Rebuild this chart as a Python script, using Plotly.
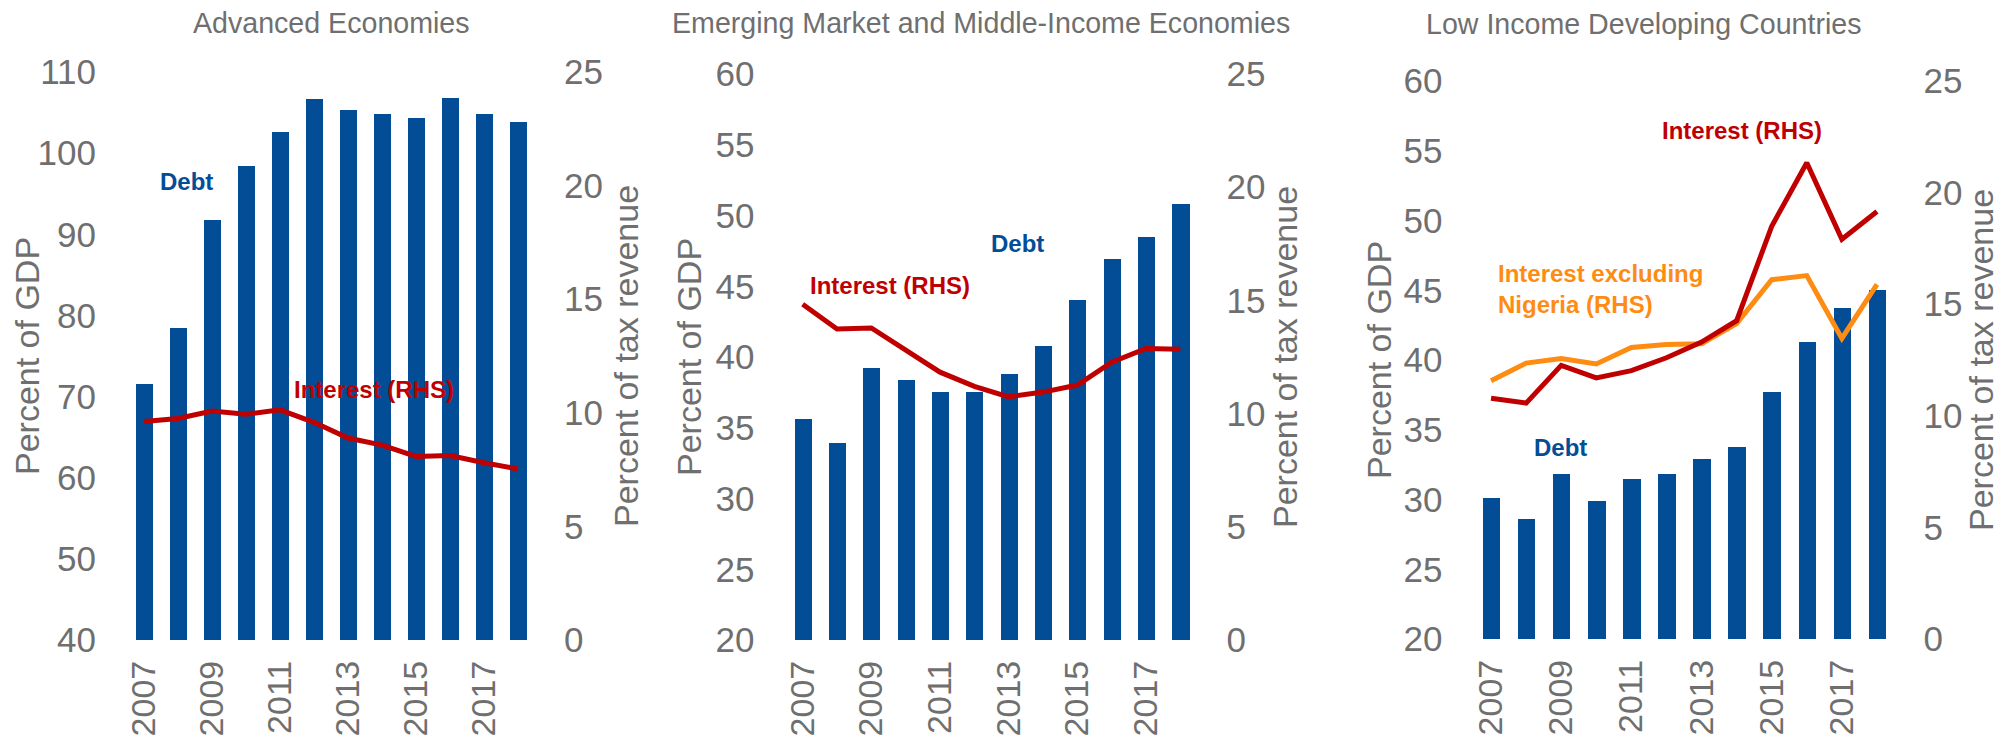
import plotly.graph_objects as go

W, H = 2015, 744

years = list(range(2007, 2019))
year_ticks = [2007, 2009, 2011, 2013, 2015, 2017]

titles = ["Advanced Economies",
          "Emerging Market and Middle-Income Economies",
          "Low Income Developing Countries"]

ae_debt = [71.5, 78.4, 91.8, 98.4, 102.6, 106.7, 105.3, 104.8, 104.3, 106.8, 104.8, 103.8]
ae_interest = [9.62, 9.75, 10.08, 9.94, 10.13, 9.58, 8.89, 8.58, 8.08, 8.12, 7.80, 7.53]

em_debt = [35.6, 33.9, 39.2, 38.4, 37.5, 37.5, 38.8, 40.8, 44.0, 46.9, 48.5, 50.8]
em_interest = [14.83, 13.74, 13.78, 12.79, 11.83, 11.2, 10.74, 10.95, 11.26, 12.27, 12.88, 12.84]

lidc_debt = [30.1, 28.6, 31.8, 29.9, 31.5, 31.85, 32.9, 33.75, 37.7, 41.3, 43.7, 45.0]
lidc_interest = [10.79, 10.57, 12.26, 11.70, 12.02, 12.6, 13.3, 14.26, 18.49, 21.34, 17.91, 19.15]
lidc_interest_ex_nigeria = [11.57, 12.36, 12.57, 12.32, 13.06, 13.19, 13.23, 14.13, 16.1, 16.28, 13.47, 15.89]

left_ranges = [(40, 110, 10), (20, 60, 5), (20, 60, 5)]
right_range = (0, 25, 5)

BLUE = "#034d97"
RED = "#c00000"
ORANGE = "#ff8c12"
GRAY = "#6f6f6f"
FONT = "Liberation Sans, Arial, sans-serif"

# pixel layout of each panel: (x0, x1, ytop, ybottom)
panels = [(127, 535, 72, 640), (785.5, 1197.6, 74, 640), (1473.5, 1894.5, 81, 639)]


def px(x):
    return x / W


def py(y):
    return 1 - y / H


fig = go.Figure()

debts = [ae_debt, em_debt, lidc_debt]
interests = [[ae_interest], [em_interest], [lidc_interest_ex_nigeria, lidc_interest]]
line_colors = [[RED], [RED], [ORANGE, RED]]

for i in range(3):
    n = i + 1
    xa = "x" if n == 1 else f"x{n}"
    yl = "y" if n == 1 else f"y{2 * n - 1}"
    yr = f"y{2 * n}"
    fig.add_trace(go.Bar(x=years, y=debts[i], width=0.5, marker_color=BLUE,
                         marker_line_width=0, xaxis=xa, yaxis=yl, showlegend=False))
    for vals, col in zip(interests[i], line_colors[i]):
        fig.add_trace(go.Scatter(x=years, y=vals, mode="lines",
                                 line=dict(color=col, width=5),
                                 xaxis=xa, yaxis=yr, showlegend=False))

layout = dict(width=W, height=H,
              margin=dict(l=0, r=0, t=0, b=0, pad=0, autoexpand=False),
              paper_bgcolor="white", plot_bgcolor="white",
              bargap=0, showlegend=False)

for i in range(3):
    n = i + 1
    x0, x1, yt, yb = panels[i]
    xkey = "xaxis" if n == 1 else f"xaxis{n}"
    ylkey = "yaxis" if n == 1 else f"yaxis{2 * n - 1}"
    yrkey = f"yaxis{2 * n}"
    ylname = "y" if n == 1 else f"y{2 * n - 1}"
    xname = "x" if n == 1 else f"x{n}"
    lo, hi, st = left_ranges[i]
    layout[xkey] = dict(domain=[px(x0), px(x1)], range=[2006.5, 2018.5],
                        anchor=ylname, tickvals=year_ticks,
                        ticktext=[str(t) for t in year_ticks],
                        tickangle=-90, showgrid=False, zeroline=False,
                        showline=False, ticks="", ticklabelstandoff=13,
                        automargin=False,
                        tickfont=dict(family=FONT, size=34, color=GRAY))
    layout[ylkey] = dict(domain=[py(yb), py(yt)], range=[lo, hi],
                         anchor=xname, tickvals=list(range(lo, hi + 1, st)),
                         showgrid=False, zeroline=False, showline=False,
                         ticks="", ticklabelstandoff=30, automargin=False,
                         tickfont=dict(family=FONT, size=35, color=GRAY))
    rlo, rhi, rst = right_range
    layout[yrkey] = dict(overlaying=ylname, side="right", range=[rlo, rhi],
                         anchor=xname, tickvals=list(range(rlo, rhi + 1, rst)),
                         showgrid=False, zeroline=False, showline=False,
                         ticks="", ticklabelstandoff=28, automargin=False,
                         tickfont=dict(family=FONT, size=35, color=GRAY))

fig.update_layout(**layout)

ann = []
# panel titles
title_pos = [(331.5, 23), (981, 23), (1644, 24)]
for t, (x, y) in zip(titles, title_pos):
    ann.append(dict(text=t, x=px(x), y=py(y), xref="paper", yref="paper",
                    showarrow=False, xanchor="center", yanchor="middle",
                    font=dict(family=FONT, size=28.6, color=GRAY)))

# axis titles
left_title_x = [27, 689, 1379]
right_title_x = [626, 1285, 1981]
for i in range(3):
    x0, x1, yt, yb = panels[i]
    yc = (yt + yb) / 2
    ann.append(dict(text="Percent of GDP", x=px(left_title_x[i]), y=py(yc),
                    xref="paper", yref="paper", showarrow=False, textangle=-90,
                    xanchor="center", yanchor="middle",
                    font=dict(family=FONT, size=34, color=GRAY)))
    ann.append(dict(text="Percent of tax revenue", x=px(right_title_x[i]), y=py(yc),
                    xref="paper", yref="paper", showarrow=False, textangle=-90,
                    xanchor="center", yanchor="middle",
                    font=dict(family=FONT, size=34, color=GRAY)))

# series labels
labels = [
    ("<b>Debt</b>", 186, 181, BLUE, "center"),
    ("<b>Interest (RHS)</b>", 374, 389, RED, "center"),
    ("<b>Debt</b>", 1018, 244, BLUE, "center"),
    ("<b>Interest (RHS)</b>", 890, 285, RED, "center"),
    ("<b>Interest (RHS)</b>", 1742, 131, RED, "center"),
    ("<b>Interest excluding<br>Nigeria (RHS)</b>", 1496, 289, ORANGE, "left"),
    ("<b>Debt</b>", 1560, 447, BLUE, "center"),
]
for text, x, y, col, anc in labels:
    ann.append(dict(text=text, x=px(x), y=py(y), xref="paper", yref="paper",
                    showarrow=False, xanchor=anc, yanchor="middle", align="left",
                    font=dict(family=FONT, size=24, color=col)))

fig.update_layout(annotations=ann)
fig.write_html("out.html")
